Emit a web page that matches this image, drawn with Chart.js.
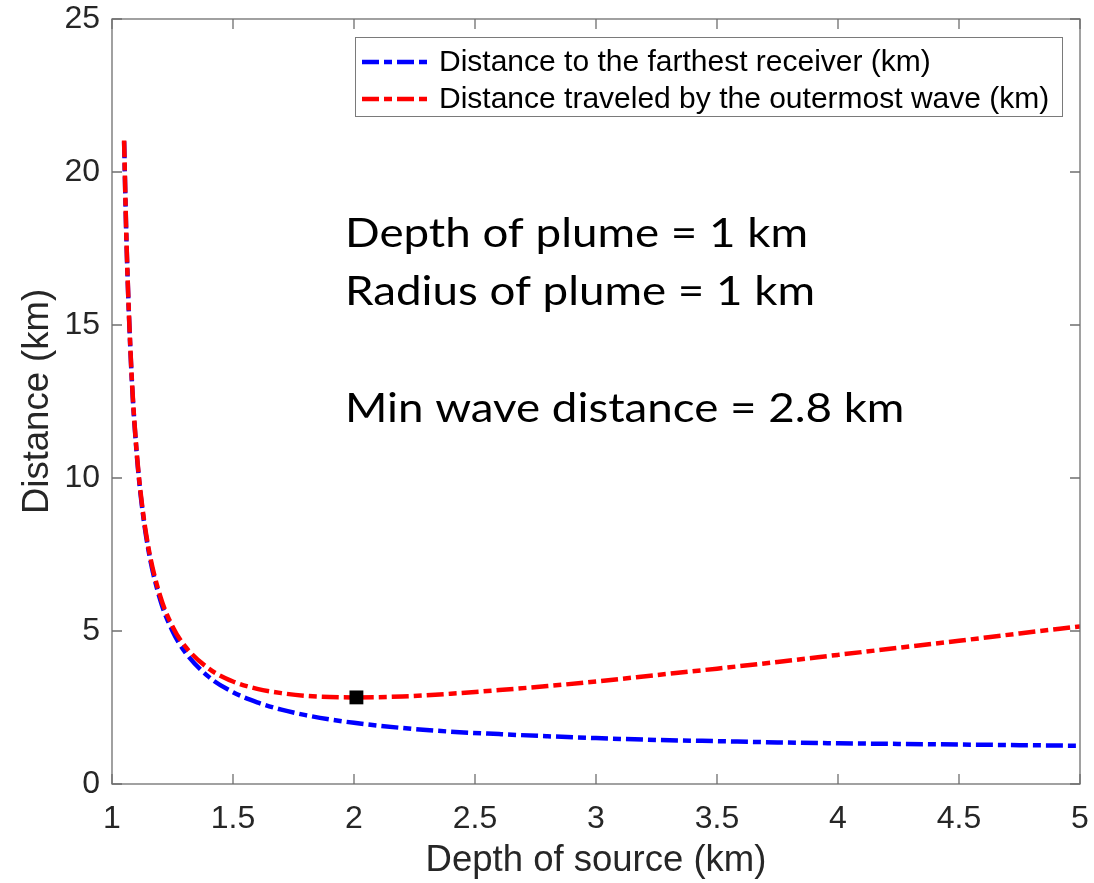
<!DOCTYPE html>
<html>
<head>
<meta charset="utf-8">
<script src="https://cdn.jsdelivr.net/npm/chart.js@4.4.1/dist/chart.umd.min.js"></script>
<style>
  html, body { margin: 0; padding: 0; background: #fff; }
</style>
</head>
<body>
<canvas id="depthChart" width="1094" height="883"></canvas>
<script>
// Podaci ocitani sa slike (km)
const depthOfSource = [1.05, 1.06, 1.08, 1.1, 1.12, 1.15, 1.2, 1.25, 1.3, 1.4, 1.5, 1.6, 1.7, 1.8, 1.9, 2.0,
                       2.2, 2.4, 2.6, 2.8, 3.0, 3.25, 3.5, 3.75, 4.0, 4.25, 4.5, 4.75, 5.0];
const farthestReceiver = [21.0, 17.67, 13.5, 11.0, 9.33, 7.67, 6.0, 5.0, 4.33, 3.5, 3.0, 2.67, 2.43, 2.25, 2.11, 2.0,
                          1.83, 1.71, 1.63, 1.56, 1.5, 1.44, 1.4, 1.36, 1.33, 1.31, 1.29, 1.27, 1.25];
const outermostWave = [21.03, 17.7, 13.54, 11.05, 9.4, 7.75, 6.12, 5.15, 4.52, 3.77, 3.35, 3.11, 2.97, 2.88, 2.84, 2.83,
                       2.86, 2.95, 3.07, 3.2, 3.35, 3.56, 3.77, 3.99, 4.22, 4.45, 4.68, 4.92, 5.15];
const minPointX = [2.01];
const minPointY = [2.83];

const xTicks = [1, 1.5, 2, 2.5, 3, 3.5, 4, 4.5, 5];
const yTicks = [0, 5, 10, 15, 20, 25];

const seriesLabels = ['Distance to the farthest receiver (km)', 'Distance traveled by the outermost wave (km)'];
const notes = ['Depth of plume = 1 km', 'Radius of plume = 1 km', '', 'Min wave distance = 2.8 km'];

const axisColor = '#6f6f6f';
const tickTextColor = '#262626';
const dashPattern = [17, 5, 8, 5];

function toPoints(xs, ys) {
    return xs.map((x, i) => ({ x: x, y: ys[i] }));
}

// Skala ne sme da smanjuje prostor grafikona zbog oznaka na ivicama
function noEdgePadding(s) {
    s.paddingLeft = 0;
    s.paddingRight = 0;
    s.paddingTop = 0;
    s.paddingBottom = 0;
}

// Okvir, unutrasnji podeoci, legenda i tekst
const framePlugin = {
    id: 'matlabFrame',
    afterDraw(chart) {
        const ctx = chart.ctx;
        const area = chart.chartArea;
        const xs = chart.scales.x;
        const ys = chart.scales.y;
        const tickLen = 10;

        ctx.save();
        ctx.strokeStyle = axisColor;
        ctx.lineWidth = 1.3;
        ctx.strokeRect(area.left, area.top, area.right - area.left, area.bottom - area.top);
        ctx.beginPath();
        xTicks.forEach(v => {
            const px = xs.getPixelForValue(v);
            ctx.moveTo(px, area.bottom); ctx.lineTo(px, area.bottom - tickLen);
            ctx.moveTo(px, area.top); ctx.lineTo(px, area.top + tickLen);
        });
        yTicks.forEach(v => {
            const py = ys.getPixelForValue(v);
            ctx.moveTo(area.left, py); ctx.lineTo(area.left + tickLen, py);
            ctx.moveTo(area.right, py); ctx.lineTo(area.right - tickLen, py);
        });
        ctx.stroke();

        // Legenda
        const lx = 355, ly = 37, lw = 707, lh = 79;
        ctx.fillStyle = '#fff';
        ctx.fillRect(lx, ly, lw, lh);
        ctx.strokeStyle = '#7a7a7a';
        ctx.lineWidth = 1;
        ctx.strokeRect(lx + 0.5, ly + 0.5, lw, lh);
        const rows = [62, 99];
        ctx.font = '30px "Liberation Sans", Arial, sans-serif';
        ctx.textBaseline = 'middle';
        ctx.textAlign = 'left';
        [0, 1].forEach(i => {
            const ds = chart.data.datasets[i];
            ctx.strokeStyle = ds.borderColor;
            ctx.lineWidth = ds.borderWidth;
            ctx.setLineDash(ds.borderDash);
            ctx.beginPath();
            ctx.moveTo(362, rows[i]);
            ctx.lineTo(432, rows[i]);
            ctx.stroke();
            ctx.setLineDash([]);
            ctx.fillStyle = '#000';
            ctx.fillText(ds.label, 439, rows[i] + 1);
        });

        // Tekst u grafikonu (uzi font, rastegnut do sirine originala)
        ctx.font = '40px Lato, "Open Sans", sans-serif';
        ctx.textBaseline = 'alphabetic';
        ctx.fillStyle = '#000';
        const sx = 463 / ctx.measureText(notes[0]).width;
        const baselines = [247, 305, 363, 422];
        notes.forEach((t, i) => {
            if (!t) return;
            ctx.save();
            ctx.translate(345, baselines[i]);
            ctx.scale(sx, 1);
            ctx.fillText(t, 0, 0);
            ctx.restore();
        });
        ctx.restore();
    }
};

const ctx = document.getElementById('depthChart').getContext('2d');
new Chart(ctx, {
    type: 'line',
    data: {
        datasets: [
            {
                label: seriesLabels[0],
                data: toPoints(depthOfSource, farthestReceiver),
                borderColor: '#0000ff',
                borderWidth: 4.5,
                borderDash: dashPattern,
                pointRadius: 0,
                cubicInterpolationMode: 'monotone',
                fill: false,
                order: 2
            },
            {
                label: seriesLabels[1],
                data: toPoints(depthOfSource, outermostWave),
                borderColor: '#ff0000',
                borderWidth: 4.5,
                borderDash: dashPattern,
                pointRadius: 0,
                cubicInterpolationMode: 'monotone',
                fill: false,
                order: 1
            },
            {
                label: 'min',
                type: 'scatter',
                data: toPoints(minPointX, minPointY),
                pointStyle: 'rect',
                pointRadius: 9.8,
                backgroundColor: '#000',
                borderWidth: 0,
                order: 0
            }
        ]
    },
    options: {
        responsive: false,
        animation: false,
        devicePixelRatio: 1,
        layout: { padding: { top: 19, right: 14, left: 0, bottom: 0 } },
        plugins: {
            legend: { display: false },
            tooltip: { enabled: false }
        },
        scales: {
            x: {
                type: 'linear',
                min: 1,
                max: 5,
                afterBuildTicks: s => { s.ticks = xTicks.map(v => ({ value: v })); },
                afterFit: s => { s.height = 99; noEdgePadding(s); },
                grid: { display: false, drawTicks: false },
                border: { display: false },
                ticks: {
                    color: tickTextColor,
                    padding: 19,
                    maxRotation: 0,
                    autoSkip: false,
                    font: { family: '"Liberation Sans", Arial, sans-serif', size: 32, lineHeight: 1 },
                    callback: v => String(v)
                },
                title: {
                    display: true,
                    text: 'Depth of source (km)',
                    color: tickTextColor,
                    padding: { top: 0, bottom: 0 },
                    font: { family: '"Liberation Sans", Arial, sans-serif', size: 36.5, lineHeight: 1.2 }
                }
            },
            y: {
                min: 0,
                max: 25,
                afterBuildTicks: s => { s.ticks = yTicks.map(v => ({ value: v })); },
                afterFit: s => { s.width = 112; noEdgePadding(s); },
                grid: { display: false, drawTicks: false },
                border: { display: false },
                ticks: {
                    color: tickTextColor,
                    padding: 12,
                    autoSkip: false,
                    font: { family: '"Liberation Sans", Arial, sans-serif', size: 32, lineHeight: 1 },
                    callback: v => String(v)
                },
                title: {
                    display: true,
                    text: 'Distance (km)',
                    color: tickTextColor,
                    padding: { top: 16, bottom: 0 },
                    font: { family: '"Liberation Sans", Arial, sans-serif', size: 36.5, lineHeight: 1.2 }
                }
            }
        }
    },
    plugins: [framePlugin]
});
</script>
</body>
</html>
